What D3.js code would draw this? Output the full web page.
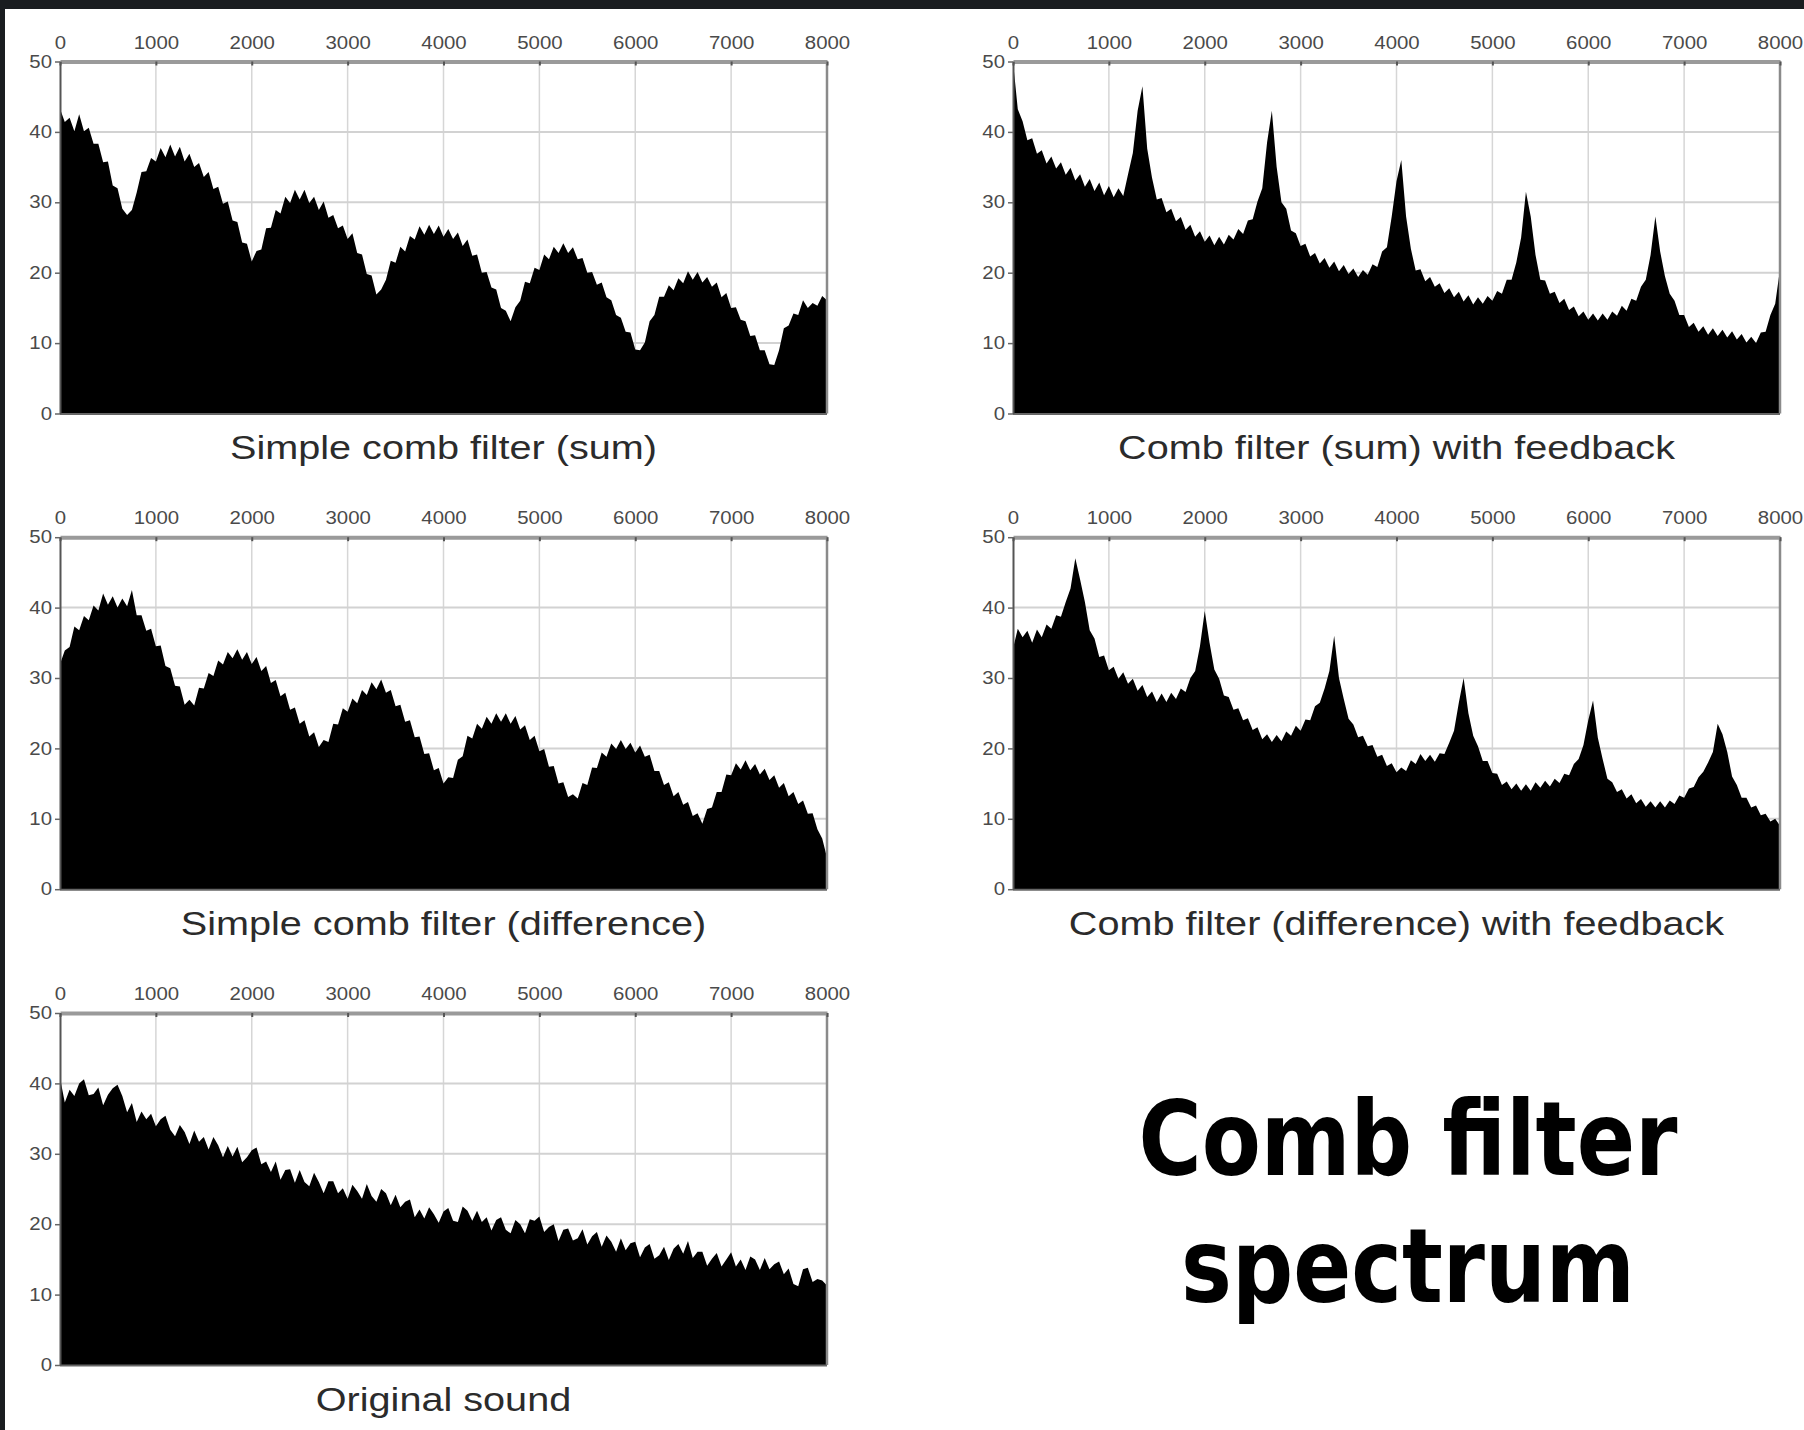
<!DOCTYPE html>
<html><head><meta charset="utf-8">
<script src="https://cdn.jsdelivr.net/npm/d3@7"></script>
<style>
html,body{margin:0;padding:0;background:#1a1d20;}
svg{display:block;}
</style></head><body>
<svg id="chart" width="1804" height="1430"></svg>
<script>
// ---------------- data ----------------
const freqStep = 50;                       // Hz between spectrum bins
const freqs = d3.range(0, 8001, freqStep); // 0 .. 8000 Hz
const xTicks = [0, 1000, 2000, 3000, 4000, 5000, 6000, 7000, 8000];
const yTicks = [0, 10, 20, 30, 40, 50];
const panelTitles = [
  "Simple comb filter (sum)",
  "Comb filter (sum) with feedback",
  "Simple comb filter (difference)",
  "Comb filter (difference) with feedback",
  "Original sound"
];
const mainTitle = ["Comb filter", "spectrum"];

const sumSimple = [
  43.3, 41.4, 42.0, 40.1, 42.5, 40.1, 40.6, 38.3, 38.3, 35.7,
  35.8, 32.4, 32.0, 29.1, 28.2, 28.9, 31.4, 34.3, 34.4, 36.3,
  35.8, 37.7, 36.4, 38.2, 36.5, 37.9, 35.8, 36.9, 35.0, 35.6,
  33.6, 34.3, 31.9, 32.2, 29.8, 30.1, 27.4, 27.2, 24.3, 24.1,
  21.6, 23.1, 23.3, 26.3, 26.4, 28.9, 28.4, 30.8, 29.9, 31.8,
  30.4, 31.8, 29.9, 30.8, 28.9, 30.1, 27.8, 28.2, 26.3, 26.7,
  24.8, 25.6, 22.8, 22.6, 19.8, 19.6, 16.9, 17.6, 19.0, 21.7,
  21.4, 23.7, 23.0, 25.2, 24.7, 26.6, 25.4, 26.8, 25.5, 26.7,
  25.1, 26.2, 24.8, 25.7, 23.8, 24.7, 22.4, 22.6, 20.0, 20.1,
  17.9, 17.6, 15.0, 14.6, 13.1, 15.1, 16.0, 18.7, 18.5, 20.7,
  20.4, 22.6, 21.9, 23.7, 22.8, 24.2, 22.8, 23.6, 21.9, 22.1,
  20.0, 20.1, 18.3, 18.6, 16.5, 16.1, 14.0, 13.6, 11.6, 11.5,
  9.1, 9.0, 10.1, 13.1, 14.0, 16.6, 16.6, 18.2, 17.5, 19.2,
  18.5, 20.2, 19.0, 20.1, 18.6, 19.4, 18.0, 18.6, 16.5, 17.1,
  15.0, 15.1, 13.3, 13.1, 11.0, 11.1, 9.0, 9.0, 7.0, 6.9,
  9.0, 12.1, 12.5, 14.2, 14.0, 16.1, 15.0, 15.7, 15.3, 16.7,
  16.1
];
const sumFeedback = [
  50.0, 43.2, 41.5, 38.8, 39.1, 36.9, 37.4, 35.5, 36.5, 34.8,
  35.7, 33.9, 34.9, 33.1, 34.0, 32.2, 33.3, 31.6, 32.8, 31.0,
  32.3, 30.7, 32.0, 30.9, 34.0, 37.0, 43.0, 46.5, 37.6, 33.5,
  30.4, 30.6, 28.6, 29.1, 27.3, 27.9, 26.1, 26.8, 25.1, 25.9,
  24.4, 25.3, 23.9, 25.1, 24.0, 25.4, 24.7, 26.2, 25.5, 27.4,
  27.6, 30.1, 32.0, 38.5, 43.0, 35.0, 30.0, 29.1, 26.0, 25.6,
  23.8, 24.1, 22.3, 22.8, 21.3, 22.1, 20.7, 21.6, 20.2, 21.1,
  19.8, 20.6, 19.4, 20.4, 19.7, 21.2, 20.8, 23.0, 23.6, 28.0,
  33.0, 36.0, 28.0, 23.4, 20.3, 20.5, 18.8, 19.4, 18.0, 18.5,
  17.1, 17.8, 16.5, 17.3, 15.9, 16.8, 15.5, 16.5, 15.6, 16.7,
  16.0, 17.4, 17.0, 19.0, 19.0, 21.5, 25.0, 31.5, 28.0, 22.5,
  19.0, 18.9, 17.0, 17.3, 15.7, 16.3, 14.7, 15.2, 13.8, 14.5,
  13.3, 14.2, 13.2, 14.2, 13.3, 14.5, 13.9, 15.3, 14.6, 16.3,
  16.0, 18.0, 19.0, 22.5, 28.0, 23.0, 19.5, 17.0, 16.0, 14.0,
  14.0, 12.3, 12.9, 11.6, 12.4, 11.2, 12.1, 11.0, 11.9, 10.8,
  11.7, 10.5, 11.3, 10.1, 10.9, 10.0, 11.5, 11.6, 14.0, 15.6,
  20.5
];
const diffSimple = [
  32.0, 33.9, 34.4, 37.3, 36.8, 38.8, 38.2, 40.3, 39.6, 42.0,
  40.4, 41.6, 40.0, 41.3, 40.2, 42.5, 38.9, 38.9, 36.7, 37.0,
  34.5, 34.6, 31.7, 31.4, 28.9, 28.8, 26.2, 26.9, 26.1, 28.6,
  28.5, 30.7, 30.3, 32.5, 31.9, 33.7, 32.8, 34.1, 32.6, 33.7,
  32.0, 33.0, 31.0, 31.7, 29.3, 29.7, 27.4, 27.9, 25.5, 25.8,
  23.5, 24.0, 21.7, 22.3, 20.2, 21.2, 20.9, 23.5, 23.4, 25.7,
  25.2, 27.1, 26.4, 28.3, 27.6, 29.4, 28.4, 29.8, 27.9, 28.3,
  26.0, 26.2, 23.8, 24.0, 21.6, 21.7, 19.2, 19.3, 16.9, 17.2,
  15.0, 15.9, 15.8, 18.4, 18.9, 21.8, 21.4, 23.5, 22.8, 24.5,
  23.5, 25.0, 23.8, 25.0, 23.5, 24.6, 22.7, 23.3, 21.2, 21.8,
  19.6, 19.9, 17.4, 17.5, 15.0, 15.2, 13.1, 13.5, 12.9, 15.1,
  14.8, 17.3, 17.2, 19.4, 18.8, 20.7, 19.9, 21.2, 19.9, 20.8,
  19.4, 20.4, 18.8, 19.1, 16.8, 16.8, 14.8, 15.2, 13.2, 13.8,
  12.0, 12.4, 10.4, 10.8, 9.3, 11.4, 11.6, 13.8, 13.8, 16.3,
  16.2, 17.9, 17.0, 18.3, 16.9, 17.8, 16.3, 17.1, 15.5, 16.2,
  14.4, 15.1, 13.2, 13.8, 12.1, 12.6, 10.7, 10.8, 8.5, 7.2,
  4.5
];
const diffFeedback = [
  34.2, 37.0, 35.8, 36.7, 35.0, 36.9, 35.8, 37.6, 37.0, 38.9,
  38.7, 40.8, 42.7, 47.0, 44.0, 40.8, 36.8, 35.6, 33.0, 33.2,
  31.1, 31.6, 29.9, 30.8, 29.2, 29.9, 28.2, 29.0, 27.3, 28.1,
  26.6, 27.8, 26.6, 27.9, 27.0, 28.5, 28.0, 30.0, 31.0, 34.5,
  39.5, 35.0, 31.2, 29.9, 27.5, 27.3, 25.5, 25.7, 24.0, 24.3,
  22.6, 23.0, 21.3, 22.0, 20.9, 21.9, 21.0, 22.4, 21.8, 23.2,
  22.5, 24.1, 24.0, 26.0, 26.5, 28.5, 31.0, 36.0, 30.0, 27.0,
  24.2, 23.4, 21.6, 21.8, 20.3, 20.5, 18.8, 19.1, 17.5, 17.9,
  16.6, 17.3, 16.8, 18.3, 17.8, 19.2, 18.2, 19.1, 18.1, 19.3,
  19.2, 20.8, 22.5, 26.5, 30.0, 25.0, 21.8, 20.3, 18.2, 18.2,
  16.5, 16.4, 14.8, 15.3, 14.2, 15.0, 14.0, 14.9, 14.0, 15.2,
  14.4, 15.4, 14.6, 15.7, 15.1, 16.4, 16.2, 17.8, 18.5, 20.5,
  24.0, 26.8, 21.5, 18.5, 15.7, 15.2, 13.8, 14.2, 12.9, 13.5,
  12.2, 12.8, 11.7, 12.5, 11.6, 12.5, 11.6, 12.6, 12.1, 13.3,
  13.0, 14.3, 14.5, 15.9, 16.7, 18.0, 19.5, 23.5, 22.0, 19.5,
  16.0, 14.8, 13.0, 13.0, 11.6, 11.9, 10.5, 10.7, 9.6, 10.0,
  9.0
];
const originalSound = [
  40.8, 37.3, 39.1, 38.2, 40.0, 40.6, 38.3, 38.5, 39.4, 36.9,
  38.4, 39.3, 39.8, 38.2, 35.9, 37.2, 34.5, 36.0, 34.9, 35.7,
  33.9, 34.9, 35.4, 33.4, 32.5, 34.1, 33.1, 31.4, 33.3, 31.7,
  32.4, 30.6, 32.4, 31.2, 29.5, 31.1, 29.6, 31.0, 28.8, 29.5,
  30.5, 30.9, 28.5, 28.9, 27.4, 28.9, 26.3, 27.7, 27.8, 25.9,
  27.7, 26.0, 25.4, 27.3, 26.0, 24.4, 26.1, 26.1, 24.4, 25.1,
  23.6, 25.6, 24.7, 23.6, 25.7, 24.0, 23.2, 25.0, 24.4, 22.7,
  24.2, 22.4, 23.2, 23.5, 21.0, 22.1, 20.8, 22.4, 21.4, 20.2,
  21.8, 22.3, 20.5, 20.3, 22.5, 21.9, 20.5, 21.9, 20.3, 21.0,
  19.1, 20.6, 21.0, 19.2, 18.7, 20.6, 20.0, 18.7, 20.7, 20.5,
  21.1, 18.9, 19.6, 20.0, 17.6, 19.2, 19.4, 17.7, 18.0, 19.3,
  17.1, 18.3, 18.9, 16.8, 18.4, 17.5, 16.1, 18.0, 16.3, 17.3,
  17.5, 15.3, 16.7, 17.2, 15.1, 15.6, 16.8, 14.9, 16.5, 17.2,
  15.8, 17.6, 15.2, 16.1, 16.1, 14.1, 15.1, 15.9, 14.0, 15.0,
  16.0, 14.0, 15.0, 13.5, 15.4, 15.0, 13.5, 15.2, 13.6, 14.3,
  14.7, 12.9, 13.7, 11.5, 11.2, 13.6, 13.8, 11.8, 12.2, 12.0,
  11.3
];

// ---------------- layout ----------------
const W = 1804, H = 1430;
const colX = [60, 1013];
const rowY = [61.5, 537.2, 1013];
const PW = 767, PH = 352;
const textStretch = 1.165;   // the source picture is stretched horizontally

const panels = [
  { title: panelTitles[0], values: sumSimple,     col: 0, row: 0 },
  { title: panelTitles[1], values: sumFeedback,   col: 1, row: 0 },
  { title: panelTitles[2], values: diffSimple,    col: 0, row: 1 },
  { title: panelTitles[3], values: diffFeedback,  col: 1, row: 1 },
  { title: panelTitles[4], values: originalSound, col: 0, row: 2 }
];

const svg = d3.select("#chart");
// page: dark frame on top and left, white sheet
svg.append("rect").attr("width", W).attr("height", H).attr("fill", "#1a1d20");
svg.append("rect").attr("x", 5).attr("y", 9).attr("width", W - 5).attr("height", H - 9).attr("fill", "#ffffff");

function stretch(sel) {
  sel.each(function () {
    const len = this.getComputedTextLength();
    d3.select(this).attr("textLength", len * textStretch).attr("lengthAdjust", "spacingAndGlyphs");
  });
}

const x = d3.scaleLinear().domain([0, 8000]).range([0, PW]);
const y = d3.scaleLinear().domain([0, 50]).range([PH, 0]);

panels.forEach(p => {
  const g = svg.append("g").attr("transform", `translate(${colX[p.col]},${rowY[p.row]})`);

  // grid
  g.append("g").selectAll("line").data(xTicks.slice(1, -1)).join("line")
    .attr("x1", d => x(d)).attr("x2", d => x(d)).attr("y1", 0).attr("y2", PH)
    .attr("stroke", "#d6d6d6").attr("stroke-width", 1.5);
  g.append("g").selectAll("line").data(yTicks.slice(1, -1)).join("line")
    .attr("x1", 0).attr("x2", PW).attr("y1", d => y(d)).attr("y2", d => y(d))
    .attr("stroke", "#d2d2d2").attr("stroke-width", 2);

  // spectrum
  const area = d3.area().x(d => x(d.f)).y0(PH).y1(d => y(d.v));
  g.append("path")
    .datum(freqs.map((f, i) => ({ f, v: p.values[i] })))
    .attr("d", area).attr("fill", "#000");

  // right and bottom frame
  g.append("line").attr("x1", PW).attr("x2", PW).attr("y1", 0).attr("y2", PH)
    .attr("stroke", "#8a8a8a").attr("stroke-width", 2.5);
  g.append("line").attr("x1", 0).attr("x2", PW).attr("y1", PH + 0.5).attr("y2", PH + 0.5)
    .attr("stroke", "#666").attr("stroke-width", 2);

  // top axis (frequency)
  const ax = g.append("g").call(
    d3.axisTop(x).tickValues(xTicks).tickSizeInner(-4).tickSizeOuter(0)
      .tickPadding(13).tickFormat(d3.format("d")));
  ax.select(".domain").attr("stroke", "#9a9a9a").attr("stroke-width", 4);
  ax.selectAll(".tick line").attr("stroke", "#555").attr("stroke-width", 2);
  ax.selectAll(".tick text").attr("fill", "#4a4a4a")
    .style("font-family", "'Liberation Sans', Arial, sans-serif").style("font-size", "17.5px")
    .call(stretch);

  // left axis (level)
  const ay = g.append("g").call(
    d3.axisLeft(y).tickValues(yTicks).tickSizeInner(5).tickSizeOuter(0).tickPadding(3));
  ay.select(".domain").attr("stroke", "#555").attr("stroke-width", 2);
  ay.selectAll(".tick line").attr("stroke", "#666").attr("stroke-width", 1.5);
  ay.selectAll(".tick text").attr("fill", "#4a4a4a")
    .style("font-family", "'Liberation Sans', Arial, sans-serif").style("font-size", "17.5px")
    .call(stretch);

  // caption
  g.append("text").attr("x", PW / 2).attr("y", PH + 45.5).attr("text-anchor", "middle")
    .attr("fill", "#2b2b2b")
    .style("font-family", "'Liberation Sans', Arial, sans-serif").style("font-size", "34px")
    .text(p.title).call(stretch);
});

// big title: two lines
const titleBase = [1175, 1302];
const titleWidth = [539, 454];
mainTitle.forEach((t, i) => {
  svg.append("text").attr("x", 1408).attr("y", titleBase[i]).attr("text-anchor", "middle")
    .attr("fill", "#000")
    .style("font-family", "'DejaVu Sans', sans-serif")
    .style("font-weight", 700).style("font-size", "103px")
    .attr("textLength", titleWidth[i]).attr("lengthAdjust", "spacingAndGlyphs")
    .text(t);
});
</script>
</body></html>
